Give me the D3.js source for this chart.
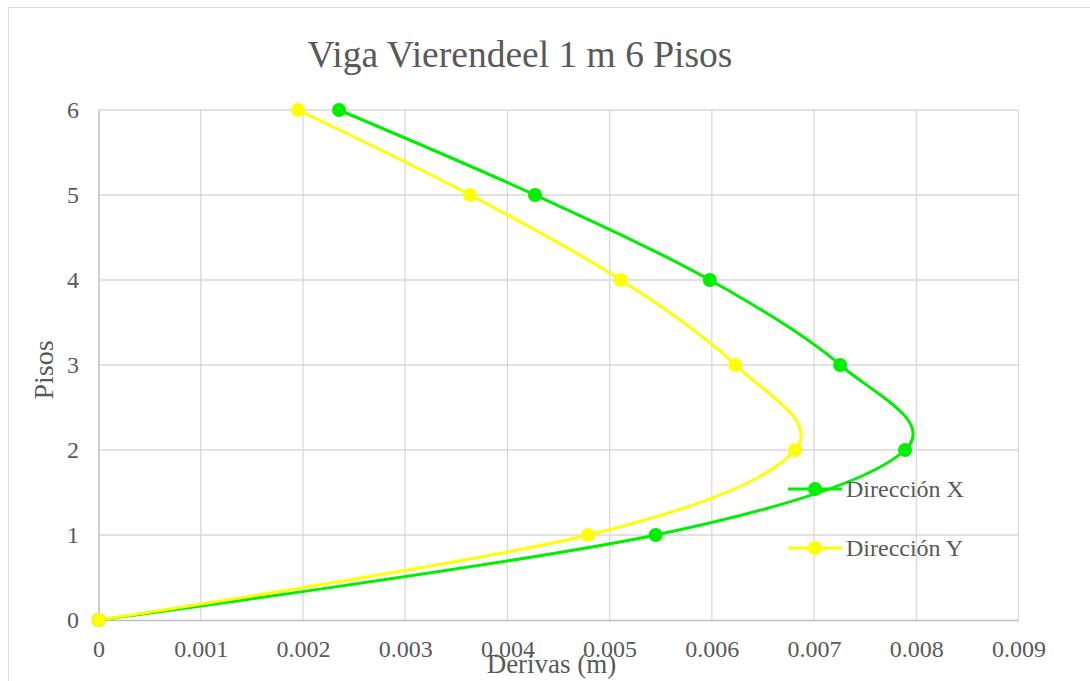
<!DOCTYPE html>
<html><head><meta charset="utf-8">
<script src="https://cdn.jsdelivr.net/npm/d3@7"></script>
<style>body{margin:0;background:#fff}svg{display:block}text{font-family:"Liberation Serif",serif}</style>
</head><body>
<svg id="c" width="1090" height="681"></svg>
<script>
const pisos = [0, 1, 2, 3, 4, 5, 6];
const derivaX = [0, 0.00545, 0.00789, 0.007255, 0.00598, 0.00427, 0.002353];
const derivaY = [0, 0.00479, 0.006815, 0.00623, 0.00511, 0.003635, 0.001952];
const xTicks = [0, 0.001, 0.002, 0.003, 0.004, 0.005, 0.006, 0.007, 0.008, 0.009];
const yTicks = [0, 1, 2, 3, 4, 5, 6];
const seriesNames = ["Dirección X", "Dirección Y"];
const seriesColors = ["#00ee00", "#ffff00"];

const svg = d3.select("#c");
const font = "Liberation Serif";
const tc = "#595959";

svg.append("rect").attr("x", 8.5).attr("y", 7.5).attr("width", 1200).attr("height", 800)
  .attr("fill", "#fff").attr("stroke", "#d9d9d9").attr("stroke-width", 1);

const x = d3.scaleLinear().domain([0, 0.009]).range([98.5, 1018.5]);
const y = d3.scaleLinear().domain([0, 6]).range([620, 110]);

const g = svg.append("g");
g.selectAll(".vg").data(xTicks.slice(1)).join("line")
  .attr("x1", d => x(d)).attr("x2", d => x(d)).attr("y1", y(0)).attr("y2", y(6))
  .attr("stroke", "#d9d9d9").attr("stroke-width", 1.3);
g.selectAll(".hg").data(yTicks.slice(1)).join("line")
  .attr("x1", x(0)).attr("x2", x(0.009)).attr("y1", d => y(d)).attr("y2", d => y(d))
  .attr("stroke", "#d9d9d9").attr("stroke-width", 1.3);

const xa = svg.append("g").attr("transform", `translate(0,${y(0)})`)
  .call(d3.axisBottom(x).tickValues(xTicks).tickSize(0).tickFormat(d => d === 0 ? "0" : d3.format(".3f")(d)));
const ya = svg.append("g").attr("transform", `translate(${x(0)},0)`)
  .call(d3.axisLeft(y).tickValues(yTicks).tickSize(0).tickFormat(d3.format("d")));
[xa, ya].forEach(a => {
  a.select(".domain").attr("stroke", "#bfbfbf").attr("stroke-width", 1.5);
  a.selectAll("text").attr("font-family", font).attr("font-size", 24).attr("fill", tc);
});
xa.selectAll("text").attr("dy", null).attr("y", 37);
ya.selectAll("text").attr("x", -19.5).attr("dy", "0.32em");

svg.append("text").attr("x", 520).attr("y", 67).attr("text-anchor", "middle")
  .attr("font-family", font).attr("font-size", 37.5).attr("fill", tc).text("Viga Vierendeel 1 m 6 Pisos");
svg.append("text").attr("x", 551.5).attr("y", 673).attr("text-anchor", "middle")
  .attr("font-family", font).attr("font-size", 27).attr("fill", tc).text("Derivas (m)");
svg.append("text").attr("transform", "translate(53,370) rotate(-90)").attr("text-anchor", "middle")
  .attr("font-family", font).attr("font-size", 28).attr("fill", tc).text("Pisos");

const line = d3.line().x(d => x(d[0])).y(d => y(d[1])).curve(d3.curveCatmullRom.alpha(0));
[derivaX, derivaY].forEach((vals, i) => {
  const pts = vals.map((v, k) => [v, pisos[k]]);
  svg.append("path").datum(pts).attr("d", line).attr("fill", "none")
    .attr("stroke", seriesColors[i]).attr("stroke-width", 3).attr("stroke-linecap", "round");
  svg.selectAll(null).data(pts).join("circle")
    .attr("cx", d => x(d[0])).attr("cy", d => y(d[1])).attr("r", 7).attr("fill", seriesColors[i]);
});

const lg = svg.append("g");
seriesNames.forEach((n, i) => {
  const ly = 489 + i * 59;
  lg.append("line").attr("x1", 788).attr("x2", 842).attr("y1", ly).attr("y2", ly)
    .attr("stroke", seriesColors[i]).attr("stroke-width", 3);
  lg.append("circle").attr("cx", 815).attr("cy", ly).attr("r", 7).attr("fill", seriesColors[i]);
  lg.append("text").attr("x", 846).attr("y", ly + 8).attr("font-family", font).attr("font-size", 24)
    .attr("fill", tc).text(n);
});
</script>
</body></html>
